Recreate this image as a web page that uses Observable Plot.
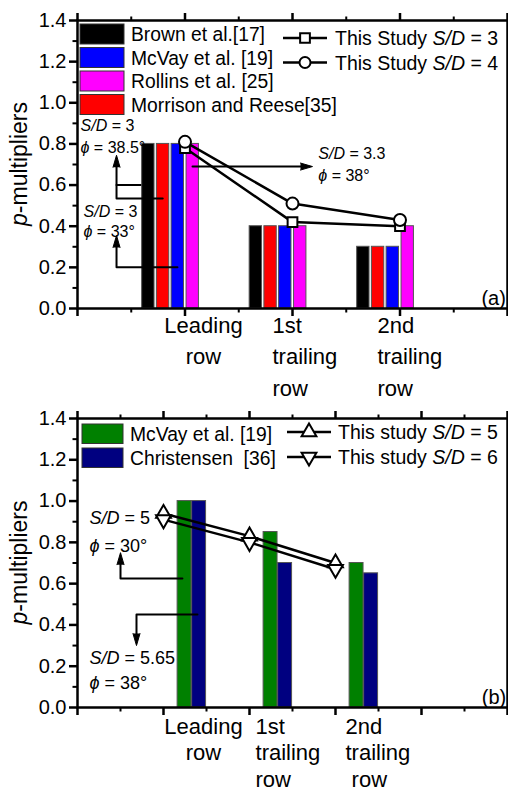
<!DOCTYPE html>
<html><head><meta charset="utf-8">
<script src="https://cdn.jsdelivr.net/npm/d3@7"></script>
<script src="https://cdn.jsdelivr.net/npm/@observablehq/plot@0.6"></script>
<style>
body{margin:0;background:#fff;}
#wrap{width:508px;}
#wrap svg{display:block;}
</style></head><body><div id="wrap"></div>
<script>
// ---------- DATA: panel (a) ----------
const rowLabelsA = ["Leading\nrow", "1st\ntrailing\nrow", "2nd\ntrailing\nrow"];
const legendBarsA = ["Brown et al.[17]", "McVay et al. [19]", "Rollins et al. [25]", "Morrison and Reese[35]"];
const brownA    = [0.80, 0.40, 0.30];
const mcvayA    = [0.80, 0.40, 0.30];
const rollinsA  = [0.80, 0.40, 0.40];
const morrisonA = [0.80, 0.40, 0.30];
const legendLinesA = ["This Study S/D = 3", "This Study S/D = 4"];
const studySD3A = [0.78, 0.42, 0.40];
const studySD4A = [0.81, 0.51, 0.43];
const notesA = [["S/D = 3", "ϕ = 38.5°"], ["S/D = 3", "ϕ = 33°"], ["S/D = 3.3", "ϕ = 38°"]];

// ---------- DATA: panel (b) ----------
const rowLabelsB = ["Leading\nrow", "1st\ntrailing\nrow", "2nd\ntrailing\n\u00a0row"];
const legendBarsB = ["McVay et al. [19]", "Christensen  [36]"];
const mcvayB       = [1.00, 0.85, 0.70];
const christensenB = [1.00, 0.70, 0.65];
const legendLinesB = ["This study S/D = 5", "This study S/D = 6"];
const studySD5B = [0.94, 0.83, 0.70];
const studySD6B = [0.91, 0.80, 0.67];
const notesB = [["S/D = 5", "ϕ = 30°"], ["S/D = 5.65", "ϕ = 38°"]];

const yTicks = [0, 0.2, 0.4, 0.6, 0.8, 1.0, 1.2, 1.4];
const yMinor = [0.1, 0.3, 0.5, 0.7, 0.9, 1.1, 1.3];
const yTitle = "p-multipliers";

// ---------- STYLE / LAYOUT ----------
const FONT = "'Liberation Sans', Arial, Helvetica, sans-serif";
const W = 508, H = 397;

function richify(root) {
  d3.select(root).selectAll("text, tspan").each(function () {
    if (this.children.length) return;
    const s = this.textContent;
    if (!/S\/D|ϕ|^p-/.test(s)) return;
    const parts = s.split(/(S\/D|ϕ|^p(?=-))/).filter(p => p !== "");
    this.textContent = "";
    for (const p of parts) {
      const t = document.createElementNS("http://www.w3.org/2000/svg", "tspan");
      if (p === "S/D" || p === "ϕ" || p === "p") t.setAttribute("font-style", "italic");
      t.textContent = p;
      this.appendChild(t);
    }
  });
}

function axes(xMajor, xMinor) {
  const none = () => "";
  return [
    Plot.axisY({ticks: yTicks, tickSize: 8, tickPadding: 3, tickFormat: d3.format(".1f"), fontSize: 20, strokeWidth: 2.5, label: null}),
    Plot.axisY({ticks: yMinor, tickSize: 4.5, tickFormat: none, strokeWidth: 2, label: null}),
    Plot.axisX({anchor: "top", ticks: xMajor, tickSize: 8, tickFormat: none, strokeWidth: 2.5, label: null}),
    Plot.axisX({anchor: "top", ticks: xMinor, tickSize: 4.5, tickFormat: none, strokeWidth: 2, label: null}),
    Plot.axisX({anchor: "bottom", ticks: xMajor, tickSize: 8, tickFormat: none, strokeWidth: 2.5, label: null}),
    Plot.axisX({anchor: "bottom", ticks: xMinor, tickSize: 4.5, tickFormat: none, strokeWidth: 2, label: null}),
    Plot.frame({strokeWidth: 2.5})
  ];
}

function buildBars(series, offsets, width) {
  const out = [];
  series.forEach(([vals, color], j) => vals.forEach((v, i) => {
    const c = i + 1 + offsets[j];
    out.push({x1: c - width / 2, x2: c + width / 2, y: v, color});
  }));
  return out;
}
function seriesPts(vals) { return vals.map((v, i) => ({x: i + 1, y: v})); }
function polylines(list) {
  const out = [];
  list.forEach((pts, id) => pts.forEach(([x, y]) => out.push({id, x, y})));
  return out;
}
function noteRows(notes, pos) {
  const out = [];
  notes.forEach((lines, k) => lines.forEach((t, j) => out.push({t, x: pos[k][0], y: pos[k][1][j]})));
  return out;
}

function addLegend(svg, barItems, lineItems, L) {
  const g = d3.select(svg).append("g").attr("font-family", FONT).attr("text-anchor", "start").attr("fill", "#000");
  barItems.forEach(([label, color], i) => {
    const y = L.boxY + i * L.rowH;
    g.append("rect").attr("x", L.boxX).attr("y", y).attr("width", L.boxW).attr("height", L.boxH)
      .attr("fill", color).attr("stroke", "#333").attr("stroke-width", 1);
    g.append("text").attr("x", L.textX).attr("y", y + L.boxH / 2 + 7).attr("font-size", 19.3).text(label);
  });
  lineItems.forEach(([label, sym, rot], i) => {
    const y = L.lineY + i * L.lineH;
    g.append("line").attr("x1", L.lineX1).attr("x2", L.lineX2).attr("y1", y).attr("y2", y)
      .attr("stroke", "#000").attr("stroke-width", 2.5);
    g.append("path").attr("d", d3.symbol(sym, L.symSize)())
      .attr("transform", `translate(${(L.lineX1 + L.lineX2) / 2},${y}) rotate(${rot})`)
      .attr("fill", "#fff").attr("stroke", "#000").attr("stroke-width", 2);
    g.append("text").attr("x", L.lineTextX).attr("y", y + 7).attr("font-size", 19.5).text(label);
  });
  return g;
}

function addYTitle(svg, cy) {
  d3.select(svg).append("text").attr("font-family", FONT).attr("font-size", 23)
    .attr("text-anchor", "middle").attr("fill", "#000")
    .attr("transform", `translate(27,${cy}) rotate(-90)`)
    .text(yTitle);
}

const spike = {shape: "spike", length: 12, r: 3.5, anchor: "end", fill: "#000", stroke: "#000", strokeWidth: 1};

// ---------- PANEL (a) ----------
const barsA = buildBars(
  [[brownA, "#000000"], [morrisonA, "#ff0000"], [mcvayA, "#0000ff"], [rollinsA, "#ff00ff"]],
  [-0.341, -0.204, -0.067, 0.072], 0.115);
const arrowsUnderA = polylines([[[0.363, 0.60], [0.61, 0.60]]]);
const arrowsA = polylines([
  [[0.793, 0.535], [0.363, 0.535], [0.363, 0.70]],
  [[0.93, 0.20], [0.363, 0.20], [0.363, 0.32]],
  [[1.07, 0.69], [2.12, 0.69]]
]);
const tipsA = [{x: 0.363, y: 0.745, r: 0}, {x: 0.363, y: 0.355, r: 0}, {x: 2.186, y: 0.69, r: 90}];
const notePosA = [[0.028, [0.89, 0.78]], [0.056, [0.47, 0.374]], [2.24, [0.75, 0.647]]];
const labelPosA = [1.172, 1.814, 2.79];

const chartA = Plot.plot({
  width: W, height: H, marginLeft: 77, marginRight: 1, marginTop: 20, marginBottom: 89,
  style: {fontFamily: FONT, background: "#fff", overflow: "visible", color: "#000"},
  x: {type: "linear", domain: [0, 4]},
  y: {domain: [0, 1.4]},
  color: {type: "identity"},
  marks: [
    Plot.line(arrowsUnderA, {x: "x", y: "y", z: "id", stroke: "#000", strokeWidth: 2}),
    Plot.rectY(barsA, {x1: "x1", x2: "x2", y1: 0, y2: "y", fill: "color", stroke: "#555", strokeWidth: 1}),
    Plot.line(arrowsA, {x: "x", y: "y", z: "id", stroke: "#000", strokeWidth: 2}),
    Plot.vector(tipsA, {x: "x", y: "y", rotate: "r", ...spike}),
    Plot.line(seriesPts(studySD3A), {x: "x", y: "y", stroke: "#000", strokeWidth: 2.5}),
    Plot.line(seriesPts(studySD4A), {x: "x", y: "y", stroke: "#000", strokeWidth: 2.5}),
    Plot.dot(seriesPts(studySD3A), {x: "x", y: "y", symbol: "square", r: 5.5, fill: "#fff", stroke: "#000", strokeWidth: 2}),
    Plot.dot(seriesPts(studySD4A), {x: "x", y: "y", symbol: "circle", r: 6, fill: "#fff", stroke: "#000", strokeWidth: 2}),
    Plot.text(noteRows(notesA, notePosA), {x: "x", y: "y", text: "t", textAnchor: "start", fontSize: 16, fill: "#000"}),
    Plot.text([rowLabelsA[0]], {x: () => labelPosA[0], text: d => d, frameAnchor: "bottom", lineAnchor: "top", dy: 2, textAnchor: "middle", fontSize: 22, lineHeight: 1.43, fill: "#000"}),
    Plot.text(rowLabelsA.slice(1), {x: (d, i) => labelPosA[i + 1], text: d => d, frameAnchor: "bottom", lineAnchor: "top", dy: 2, textAnchor: "start", fontSize: 22, lineHeight: 1.43, fill: "#000"}),
    Plot.text(["(a)"], {x: () => 3.985, y: () => 0.05, text: d => d, textAnchor: "end", fontSize: 20, fill: "#000"}),
    ...axes([0, 1, 2, 3, 4], [0.5, 1.5, 2.5, 3.5])
  ]
});
addLegend(chartA,
  [[legendBarsA[0], "#000000"], [legendBarsA[1], "#0000ff"], [legendBarsA[2], "#ff00ff"], [legendBarsA[3], "#ff0000"]],
  [[legendLinesA[0], d3.symbolSquare, 0], [legendLinesA[1], d3.symbolCircle, 0]],
  {boxX: 80, boxY: 24, boxW: 44, boxH: 20, rowH: 23.5, textX: 131,
   lineX1: 283, lineX2: 327, lineY: 38, lineH: 24.5, symSize: 95, lineTextX: 335});
addYTitle(chartA, 164);

// ---------- PANEL (b) ----------
const barsB = buildBars([[mcvayB, "#008000"], [christensenB, "#000080"]], [0.245, 0.414], 0.162);
const arrowsB = polylines([
  [[1.22, 0.625], [0.5, 0.625], [0.5, 0.72]],
  [[1.395, 0.45], [0.686, 0.45], [0.686, 0.33]]
]);
const tipsB = [{x: 0.5, y: 0.75, r: 0}, {x: 0.686, y: 0.30, r: 180}];
const notePosB = [[0.14, [0.915, 0.78]], [0.14, [0.237, 0.116]]];
const labelPosB = [1.465, 2.07, 3.116];

const chartB = Plot.plot({
  width: W, height: H, marginLeft: 77, marginRight: 1, marginTop: 21, marginBottom: 87,
  style: {fontFamily: FONT, background: "#fff", overflow: "visible", color: "#000"},
  x: {type: "linear", domain: [0, 5]},
  y: {domain: [0, 1.4]},
  color: {type: "identity"},
  marks: [
    Plot.rectY(barsB, {x1: "x1", x2: "x2", y1: 0, y2: "y", fill: "color", stroke: "#555", strokeWidth: 1}),
    Plot.line(arrowsB, {x: "x", y: "y", z: "id", stroke: "#000", strokeWidth: 2}),
    Plot.vector(tipsB, {x: "x", y: "y", rotate: "r", ...spike}),
    Plot.line(seriesPts(studySD5B), {x: "x", y: "y", stroke: "#000", strokeWidth: 2.5}),
    Plot.line(seriesPts(studySD6B), {x: "x", y: "y", stroke: "#000", strokeWidth: 2.5}),
    Plot.dot(seriesPts(studySD5B), {x: "x", y: "y", symbol: "triangle", r: 5.5, fill: "#fff", stroke: "#000", strokeWidth: 2}),
    Plot.dot(seriesPts(studySD6B), {x: "x", y: "y", symbol: "triangle", rotate: 180, r: 5.5, fill: "#fff", stroke: "#000", strokeWidth: 2}),
    Plot.text(noteRows(notesB, notePosB), {x: "x", y: "y", text: "t", textAnchor: "start", fontSize: 18, fill: "#000"}),
    Plot.text([rowLabelsB[0]], {x: () => labelPosB[0], text: d => d, frameAnchor: "bottom", lineAnchor: "top", dy: 7, textAnchor: "middle", fontSize: 22, lineHeight: 1.22, fill: "#000"}),
    Plot.text(rowLabelsB.slice(1), {x: (d, i) => labelPosB[i + 1], text: d => d, frameAnchor: "bottom", lineAnchor: "top", dy: 7, textAnchor: "start", fontSize: 22, lineHeight: 1.22, fill: "#000"}),
    Plot.text(["(b)"], {x: () => 4.985, y: () => 0.05, text: d => d, textAnchor: "end", fontSize: 20, fill: "#000"}),
    ...axes([0, 1, 2, 3, 4, 5], [0.5, 1.5, 2.5, 3.5, 4.5])
  ]
});
addLegend(chartB,
  [[legendBarsB[0], "#008000"], [legendBarsB[1], "#000080"]],
  [[legendLinesB[0], d3.symbolTriangle, 0], [legendLinesB[1], d3.symbolTriangle, 180]],
  {boxX: 82, boxY: 27, boxW: 41, boxH: 19.5, rowH: 24, textX: 130,
   lineX1: 287, lineX2: 331, lineY: 35, lineH: 25, symSize: 95, lineTextX: 338});
addYTitle(chartB, 165.5);

const wrap = document.getElementById("wrap");
wrap.appendChild(chartA);
wrap.appendChild(chartB);
richify(wrap);
</script>
</body></html>
